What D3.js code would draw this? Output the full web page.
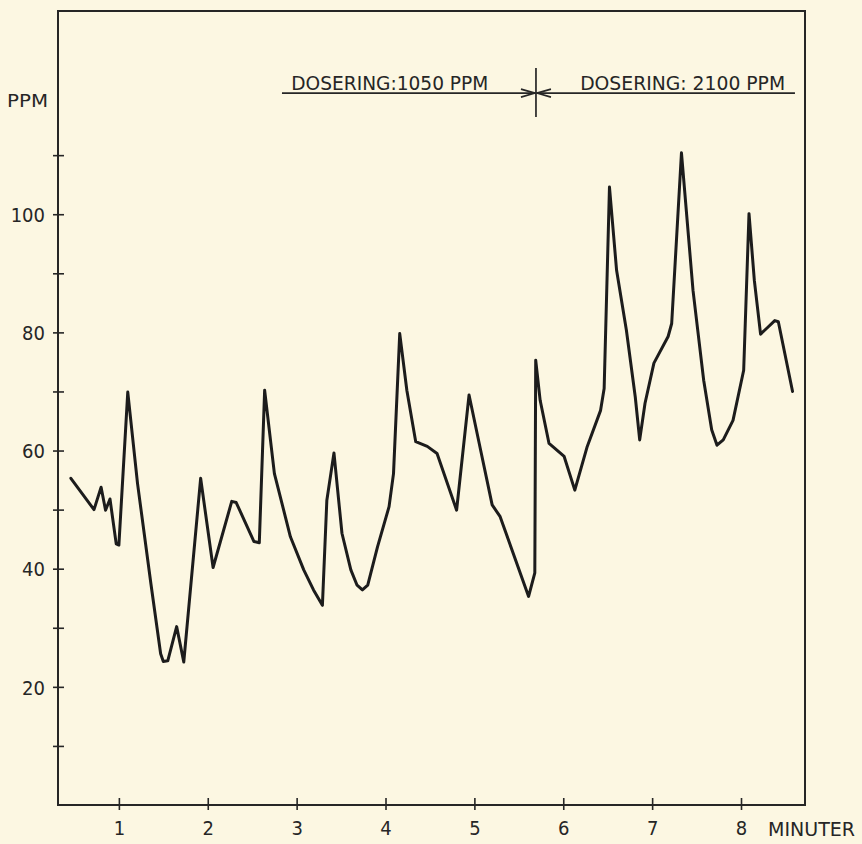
<!DOCTYPE html>
<html>
<head>
<meta charset="utf-8">
<script src="https://cdn.jsdelivr.net/npm/d3@7"></script>
<style>
  html, body { margin: 0; padding: 0; background: #fcf7e2; }
  svg { display: block; }
  text { font-family: "DejaVu Sans Condensed", "Liberation Sans Narrow", "DejaVu Sans", sans-serif; fill: #262626; }
</style>
</head>
<body>
<svg id="chart" width="862" height="844"></svg>
<script>
// ---- data (minutes, ppm) ----
const minutes = [0.46, 0.72, 0.80, 0.85, 0.90, 0.97, 1.00, 1.10, 1.21, 1.36, 1.47, 1.50, 1.55, 1.65, 1.73, 1.92, 2.06, 2.27, 2.32, 2.52, 2.58, 2.64, 2.75, 2.93, 3.08, 3.19, 3.29, 3.34, 3.42, 3.51, 3.61, 3.68, 3.74, 3.80, 3.91, 4.04, 4.09, 4.16, 4.24, 4.34, 4.47, 4.58, 4.80, 4.94, 5.07, 5.20, 5.29, 5.61, 5.68, 5.69, 5.74, 5.84, 6.01, 6.13, 6.27, 6.42, 6.46, 6.52, 6.60, 6.71, 6.81, 6.86, 6.92, 7.02, 7.18, 7.22, 7.33, 7.46, 7.58, 7.67, 7.73, 7.80, 7.91, 8.03, 8.09, 8.15, 8.22, 8.29, 8.38, 8.42, 8.58];
const ppm     = [55.3, 50.0, 53.8, 49.9, 51.8, 44.2, 44.0, 69.9, 54.4, 37.5, 25.6, 24.3, 24.4, 30.2, 24.2, 55.3, 40.2, 51.4, 51.2, 44.6, 44.4, 70.2, 56.1, 45.4, 39.8, 36.4, 33.8, 51.6, 59.6, 46.0, 39.8, 37.2, 36.4, 37.2, 43.7, 50.5, 56.1, 79.8, 70.2, 61.5, 60.7, 59.5, 49.9, 69.4, 60.1, 50.8, 48.8, 35.3, 39.3, 75.3, 68.5, 61.2, 59.0, 53.3, 60.7, 66.8, 70.5, 104.6, 90.5, 80.4, 69.1, 61.8, 68.0, 74.8, 79.3, 81.5, 110.4, 87.1, 71.9, 63.5, 60.9, 61.8, 65.1, 73.6, 100.1, 88.8, 79.7, 80.7, 82.0, 81.8, 70.0];

const xTicks = [1, 2, 3, 4, 5, 6, 7, 8];
const yTicks = [10, 20, 30, 40, 50, 60, 70, 80, 90, 100, 110];
const yLabels = [20, 40, 60, 80, 100];
const xTitle = "MINUTER";
const yTitle = "PPM";

// dosing annotation (positions in minutes / ppm)
const doseStart = 2.835, doseSwitch = 5.693, doseEnd = 8.607, doseLevel = 120.5;
const doseLabels = ["DOSERING:1050 PPM", "DOSERING: 2100 PPM"];
const doseLabelAt = [2.94, 6.19];

// ---- layout ----
const padL = 58, padR = 805, padT = 11, padB = 805;
const x = d3.scaleLinear().domain([0.315, 8.72]).range([padL, padR]);
const y = d3.scaleLinear().domain([0, 134.4]).range([padB, padT]);

const svg = d3.select("#chart");
const ink = "#262626";

// frame
svg.append("rect")
  .attr("x", padL).attr("y", padT)
  .attr("width", padR - padL).attr("height", padB - padT)
  .attr("fill", "none").attr("stroke", ink).attr("stroke-width", 2);

// x axis ticks (crossing)
const xAxis = d3.axisBottom(x).tickValues(xTicks).tickSize(0).tickFormat(d => d);
const gx = svg.append("g").attr("transform", `translate(0,${padB})`).call(xAxis);
gx.select(".domain").remove();
gx.selectAll(".tick text").attr("dy", null).attr("y", 30)
  .attr("font-size", 20).attr("fill", ink)
  .style("font-family", '"DejaVu Sans Condensed", sans-serif');
gx.selectAll(".tick").append("line")
  .attr("y1", -7).attr("y2", 5).attr("stroke", ink).attr("stroke-width", 1.6);

svg.append("text").attr("x", 768).attr("y", 836)
  .attr("font-size", 19).attr("textLength", 87).attr("lengthAdjust", "spacingAndGlyphs")
  .text(xTitle);

// y axis ticks (crossing)
const yAxis = d3.axisLeft(y).tickValues(yTicks).tickSize(0)
  .tickFormat(d => yLabels.includes(d) ? d : "");
const gy = svg.append("g").attr("transform", `translate(${padL},0)`).call(yAxis);
gy.select(".domain").remove();
gy.selectAll(".tick text").attr("x", -13).attr("dy", "0.36em")
  .attr("font-size", 20).attr("fill", ink)
  .style("font-family", '"DejaVu Sans Condensed", sans-serif');
gy.selectAll(".tick").append("line")
  .attr("x1", -5).attr("x2", 6).attr("stroke", ink).attr("stroke-width", 1.6);

svg.append("text").attr("x", 7).attr("y", 107)
  .attr("font-size", 18).attr("textLength", 41).attr("lengthAdjust", "spacingAndGlyphs")
  .text(yTitle);

// data line
const pts = minutes.map((m, i) => [m, ppm[i]]);
svg.append("path")
  .datum(pts)
  .attr("fill", "none")
  .attr("stroke", "#1c1c1c")
  .attr("stroke-width", 3)
  .attr("stroke-linejoin", "round")
  .attr("stroke-linecap", "round")
  .attr("d", d3.line().x(d => x(d[0])).y(d => y(d[1])));

// dosing annotation
const yd = y(doseLevel);
const xs = x(doseSwitch);
svg.append("line").attr("x1", x(doseStart)).attr("x2", xs - 1)
  .attr("y1", yd).attr("y2", yd).attr("stroke", ink).attr("stroke-width", 1.7);
svg.append("line").attr("x1", xs + 1).attr("x2", x(doseEnd))
  .attr("y1", yd).attr("y2", yd).attr("stroke", ink).attr("stroke-width", 1.7);
svg.append("line").attr("x1", xs).attr("x2", xs)
  .attr("y1", yd - 25).attr("y2", yd + 24).attr("stroke", ink).attr("stroke-width", 1.7);
// arrowheads
svg.append("path")
  .attr("d", `M${xs - 15},${yd - 4} L${xs - 1},${yd} L${xs - 15},${yd + 4}`)
  .attr("fill", "none").attr("stroke", ink).attr("stroke-width", 1.6);
svg.append("path")
  .attr("d", `M${xs + 15},${yd - 4} L${xs + 1},${yd} L${xs + 15},${yd + 4}`)
  .attr("fill", "none").attr("stroke", ink).attr("stroke-width", 1.6);

const doseWidths = [197, 205];
doseLabels.forEach((t, i) => {
  svg.append("text").attr("x", x(doseLabelAt[i])).attr("y", yd - 3)
    .attr("font-size", 19)
    .attr("textLength", doseWidths[i]).attr("lengthAdjust", "spacingAndGlyphs")
    .text(t);
});
</script>
</body>
</html>
